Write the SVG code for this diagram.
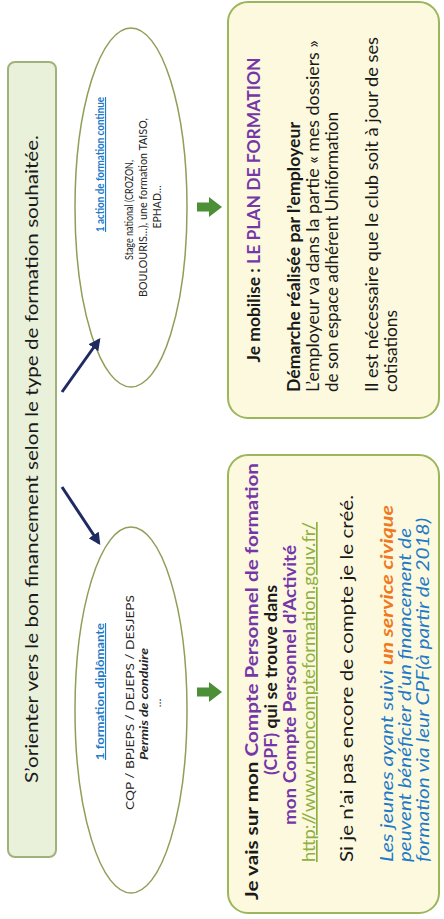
<svg xmlns="http://www.w3.org/2000/svg" width="444" height="919" viewBox="0 0 444 919">
<style>
  text { font-family: Lato, "Liberation Sans", "DejaVu Sans", sans-serif; fill: #1a1a1a; }
  .title-box { fill: #eaf1da; stroke: #a0b27c; stroke-width: 2; }
  .oval { fill: #ffffff; stroke: #8e9f58; stroke-width: 1.5; }
  .card { fill: #fcf9de; stroke: #9cb65c; stroke-width: 2; }
  .lbl { font-size: 11px; font-weight: bold; fill: #1f7ac8; text-decoration: underline; }
  .small { font-size: 11.5px; fill: #262626; }
  .body { font-size: 16.5px; }
  .b { font-weight: bold; }
  .purple { fill: #7436a8; }
  .link { fill: #8db040; text-decoration: underline; }
  .it { font-style: italic; fill: #1f7ac8; }
  .orange { fill: #f07820; }
  .navy { stroke: #1f2a63; stroke-width: 3; fill: none; marker-end: url(#navyHead); }
  .garrow { fill: #4b8f36; }
</style>
<defs>
  <marker id="navyHead" viewBox="0 0 10 10" refX="8" refY="5" markerWidth="4" markerHeight="4" orient="auto" markerUnits="strokeWidth">
    <path d="M0,0 L10,5 L0,10 z" fill="#1f2a63"/>
  </marker>
  <polygon id="greenArrow" points="-4.5,0 4.5,0 4.5,12 10,12 0,25 -10,12 -4.5,12"/>
</defs>
<g transform="translate(0,919) rotate(-90)">
  <g id="title">
    <rect class="title-box" x="62" y="8" width="795" height="48" rx="7"/>
    <text x="460" y="38" text-anchor="middle" font-size="18" textLength="648" lengthAdjust="spacingAndGlyphs">S’orienter vers le bon financement selon le type de formation souhaitée.</text>
  </g>
  <g id="oval-continue">
    <ellipse class="oval" cx="711.5" cy="131" rx="179.5" ry="56"/>
    <text class="lbl" x="754.5" y="104" text-anchor="middle" textLength="135" lengthAdjust="spacingAndGlyphs">1 action de formation continue</text>
    <text class="small" x="709" y="133" text-anchor="middle" textLength="100" lengthAdjust="spacingAndGlyphs">Stage national (CROZON,</text>
    <text class="small" x="711.5" y="147" text-anchor="middle" textLength="179" lengthAdjust="spacingAndGlyphs">BOULOURIS…), une formation TAISO,</text>
    <text class="small" x="712" y="161" text-anchor="middle" textLength="43" lengthAdjust="spacingAndGlyphs">EPHAD…</text>
  </g>
  <g id="oval-diplomante">
    <ellipse class="oval" cx="209" cy="131" rx="183" ry="56"/>
    <text class="lbl" x="227.5" y="104" text-anchor="middle" textLength="137" lengthAdjust="spacingAndGlyphs">1 formation diplômante</text>
    <text class="small" x="216.5" y="134" text-anchor="middle" textLength="215" lengthAdjust="spacingAndGlyphs">CQP / BPJEPS / DEJEPS / DESJEPS</text>
    <text class="small b" x="215" y="148" text-anchor="middle" font-style="italic" textLength="112" lengthAdjust="spacingAndGlyphs">Permis de conduire</text>
    <text class="small" x="216" y="161" text-anchor="middle">…</text>
  </g>
  <g id="card-plan">
    <rect class="card" x="501" y="228" width="416" height="211" rx="20"/>
    <text class="body b" x="709" y="260" text-anchor="middle" textLength="305" lengthAdjust="spacingAndGlyphs">Je mobilise : <tspan class="purple">LE PLAN DE FORMATION</tspan></text>
    <text class="body b" x="527" y="300" textLength="270" lengthAdjust="spacingAndGlyphs">Démarche réalisée par l’employeur</text>
    <text class="body" x="527" y="319" textLength="352" lengthAdjust="spacingAndGlyphs">L’employeur va dans la partie « mes dossiers »</text>
    <text class="body" x="527" y="338" textLength="280" lengthAdjust="spacingAndGlyphs">de son espace adhérent Uniformation</text>
    <text class="body" x="527" y="378" textLength="355" lengthAdjust="spacingAndGlyphs">Il est nécessaire que le club soit à jour de ses</text>
    <text class="body" x="527" y="397" textLength="82" lengthAdjust="spacingAndGlyphs">cotisations</text>
  </g>
  <g id="card-cpf">
    <rect class="card" x="6" y="228" width="458" height="211" rx="20"/>
    <text class="body b" x="19" y="258" textLength="437" lengthAdjust="spacingAndGlyphs">Je vais sur mon <tspan class="purple">Compte Personnel de formation</tspan></text>
    <text class="body b" x="239" y="277" text-anchor="middle" textLength="190" lengthAdjust="spacingAndGlyphs"><tspan class="purple">(CPF)</tspan> qui se trouve dans</text>
    <text class="body b purple" x="234" y="296" text-anchor="middle" textLength="280" lengthAdjust="spacingAndGlyphs">mon Compte Personnel d’Activité</text>
    <text class="body link" x="57" y="315" textLength="340" lengthAdjust="spacingAndGlyphs">http://www.moncompteformation.gouv.fr/</text>
    <text class="body" x="57" y="353" textLength="367" lengthAdjust="spacingAndGlyphs">Si je n’ai pas encore de compte je le créé.</text>
    <text class="body it" x="57" y="393" textLength="357" lengthAdjust="spacingAndGlyphs">Les jeunes ayant suivi <tspan class="orange b">un service civique</tspan></text>
    <text class="body it" x="57" y="411" textLength="334" lengthAdjust="spacingAndGlyphs">peuvent bénéficier d’un financement de</text>
    <text class="body it" x="57" y="429" textLength="344" lengthAdjust="spacingAndGlyphs">formation via leur CPF(à partir de 2018)</text>
  </g>
  <g id="connectors">
    <line class="navy" x1="527" y1="62" x2="579" y2="99"/>
    <line class="navy" x1="432" y1="62" x2="376" y2="99"/>
    <use href="#greenArrow" class="garrow" x="712" y="197"/>
    <use href="#greenArrow" class="garrow" x="227" y="197"/>
  </g>
</g>
</svg>
